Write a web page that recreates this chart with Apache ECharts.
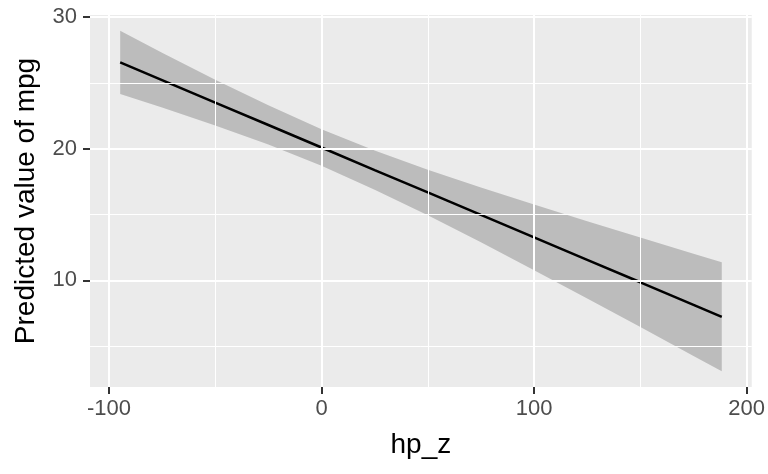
<!DOCTYPE html>
<html>
<head>
<meta charset="utf-8">
<script src="https://cdn.jsdelivr.net/npm/echarts@6/dist/echarts.min.js"></script>
<style>
  html, body { margin: 0; padding: 0; background: #fff; }
  #chart { width: 768px; height: 474px; }
</style>
</head>
<body>
<div id="chart"></div>
<script>
// predicted mpg by centred horsepower, with 95% band
const hpZ = [-94.7, -75, -50, -25, 0, 25, 50, 75, 100, 125, 150, 175, 188.3];
const predicted = [26.55, 25.21, 23.50, 21.80, 20.09, 18.38, 16.68, 14.97, 13.27, 11.56, 9.86, 8.15, 7.24];
const lower = [24.15, 23.12, 21.77, 20.31, 18.70, 16.89, 14.94, 12.89, 10.78, 8.63, 6.46, 4.27, 3.11];
const upper = [28.95, 27.29, 25.24, 23.29, 21.48, 19.87, 18.41, 17.06, 15.76, 14.50, 13.26, 12.03, 11.38];

const xTicks = [-100, 0, 100, 200];
const xMinor = [-50, 50, 150];
const yTicks = [10, 20, 30];
const yMinor = [5, 15, 25];

const chart = echarts.init(document.getElementById("chart"));

const grid = (vals, key, width) =>
    vals.map(v => ({ [key]: v, lineStyle: { color: "#fff", width: width, type: "solid" } }));

// one row per x: [x, lower, upper]
const bandRows = hpZ.map((x, i) => [x, lower[i], upper[i]]);

chart.setOption({
    animation: false,
    grid: {
        left: 90, right: 15, top: 15, bottom: 87,
        show: true, backgroundColor: "#EBEBEB", borderWidth: 0
    },
    xAxis: {
        type: "value",
        min: -108.9, max: 202.4,
        name: "hp_z",
        nameLocation: "middle",
        nameGap: 44,
        nameTextStyle: { fontSize: 28, color: "#000", fontFamily: "Liberation Sans" },
        axisLine: { show: true, onZero: false, lineStyle: { color: "rgba(0,0,0,0)" } },
        splitLine: { show: false },
        axisTick: { show: true, length: 7, customValues: xTicks, lineStyle: { color: "#333", width: 2 } },
        axisLabel: { customValues: xTicks, fontSize: 22, color: "#4D4D4D", margin: 11, fontFamily: "Liberation Sans" }
    },
    yAxis: {
        type: "value",
        min: 1.91, max: 30.15,
        name: "Predicted value of mpg",
        nameLocation: "middle",
        nameGap: 50,
        nameTextStyle: { fontSize: 28, color: "#000", fontFamily: "Liberation Sans" },
        axisLine: { show: true, onZero: false, lineStyle: { color: "rgba(0,0,0,0)" } },
        splitLine: { show: false },
        axisTick: { show: true, length: 7, customValues: yTicks, lineStyle: { color: "#333", width: 2 } },
        axisLabel: { customValues: yTicks, fontSize: 22, color: "#4D4D4D", margin: 13, fontFamily: "Liberation Sans" }
    },
    series: [
        {
            // gridlines
            type: "line",
            data: [],
            z: 1,
            markLine: {
                silent: true,
                symbol: "none",
                label: { show: false },
                data: [
                    ...grid(xMinor, "xAxis", 1),
                    ...grid(yMinor, "yAxis", 1),
                    ...grid(xTicks, "xAxis", 2),
                    ...grid(yTicks, "yAxis", 2)
                ]
            }
        },
        {
            name: "ci",
            type: "custom",
            z: 2,
            silent: true,
            data: [0],
            renderItem: (params, api) => {
                const top = bandRows.map(r => api.coord([r[0], r[2]]));
                const bottom = bandRows.map(r => api.coord([r[0], r[1]])).reverse();
                return {
                    type: "polygon",
                    shape: { points: top.concat(bottom) },
                    style: { fill: "rgba(0,0,0,0.2)" }
                };
            }
        },
        {
            name: "predicted",
            type: "line",
            z: 3,
            symbol: "none",
            lineStyle: { color: "#000", width: 2.5 },
            data: hpZ.map((x, i) => [x, predicted[i]])
        }
    ]
});
</script>
</body>
</html>
